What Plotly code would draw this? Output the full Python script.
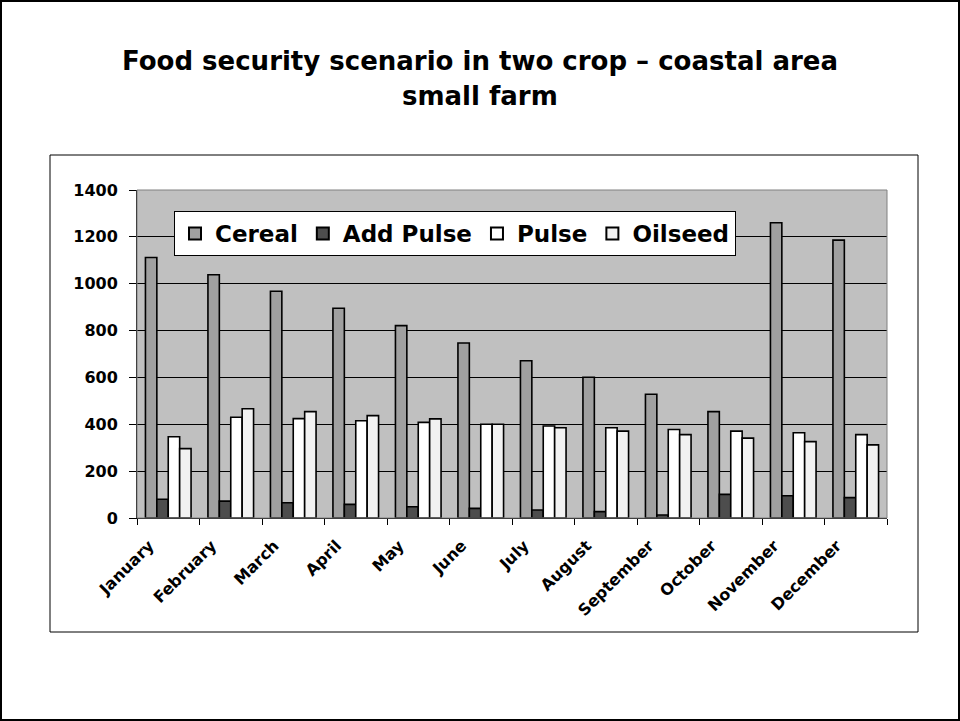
import plotly.graph_objects as go

months = ["January", "February", "March", "April", "May", "June", "July",
          "August", "September", "October", "November", "December"]
cereal = [1112, 1038, 968, 895, 821, 747, 671, 601, 528, 454, 1260, 1186]
add_pulse = [80, 72, 65, 58, 48, 41, 34, 27, 13, 101, 95, 87]
pulse = [347, 430, 424, 415, 408, 400, 393, 385, 378, 371, 364, 356]
oilseed = [296, 466, 454, 437, 423, 400, 385, 371, 356, 341, 326, 312]

series = [
    ("Cereal", cereal, "#a0a0a0"),
    ("Add Pulse", add_pulse, "#4d4d4d"),
    ("Pulse", pulse, "#ffffff"),
    ("Oilseed", oilseed, "#f2f2f2"),
]

title_lines = ["Food security scenario in two crop – coastal area", "small farm"]

W, H = 960, 721
L, R, T, B = 137, 887, 190, 518  # plot area in pixels


def px_x(p):
    return (p - L) / (R - L)


def px_y(p):
    return (B - p) / (B - T)


fig = go.Figure()
for name, vals, color in series:
    fig.add_trace(go.Bar(
        x=months, y=vals, name=name,
        marker=dict(color=color, line=dict(color="#000000", width=1.6)),
    ))

font = "DejaVu Sans, Verdana, sans-serif"

# two-line heading, each line placed on its own
for text, yc in zip(title_lines, [61, 96]):
    fig.add_annotation(
        text=f"<b>{text}</b>", showarrow=False,
        xref="paper", yref="paper", x=px_x(480), y=px_y(yc),
        xanchor="center", yanchor="middle",
        font=dict(family=font, size=26, color="#000000"),
    )

fig.update_layout(
    width=W, height=H,
    margin=dict(l=L, r=W - R, t=T, b=H - B, pad=0),
    paper_bgcolor="#ffffff",
    plot_bgcolor="#c0c0c0",
    barmode="group",
    bargap=0.27,
    bargroupgap=0,
    legend=dict(
        orientation="h",
        x=px_x(174), y=px_y(211), xanchor="left", yanchor="top",
        bgcolor="#ffffff", bordercolor="#000000", borderwidth=1,
        font=dict(family=font, size=23, color="#000000", weight="bold"),
        itemsizing="constant",
    ),
    xaxis=dict(
        type="category",
        tickson="boundaries",
        ticks="outside", ticklen=6, tickcolor="#000000",
        showline=True, linecolor="#000000", linewidth=1,
        showgrid=False,
        tickangle=-45,
        ticklabelshift=-19,
        ticklabelstandoff=11,
        tickfont=dict(family=font, size=16, color="#000000", weight="bold"),
    ),
    yaxis=dict(
        range=[0, 1400], dtick=200,
        ticks="outside", ticklen=7, tickcolor="#000000",
        showline=True, linecolor="#000000", linewidth=1,
        showgrid=True, gridcolor="#000000", gridwidth=1,
        zeroline=False,
        ticklabelstandoff=8,
        tickfont=dict(family=font, size=16, color="#000000", weight="bold"),
    ),
    shapes=[
        # outer slide frame
        dict(type="rect", xref="paper", yref="paper",
             x0=px_x(1), x1=px_x(959), y0=px_y(720), y1=px_y(1),
             line=dict(color="#000000", width=2), layer="below"),
        # chart box
        dict(type="rect", xref="paper", yref="paper",
             x0=px_x(50), x1=px_x(918), y0=px_y(632), y1=px_y(155),
             line=dict(color="#000000", width=1), layer="below"),
        # plot area outline (top / right)
        dict(type="rect", xref="paper", yref="paper",
             x0=0, x1=1, y0=0, y1=1,
             line=dict(color="#808080", width=1), layer="above"),
    ],
)

fig.write_html("out.html")
